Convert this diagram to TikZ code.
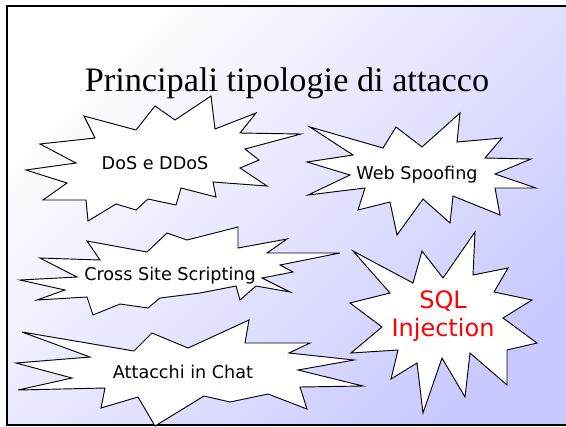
\documentclass[tikz,border=0pt]{standalone}
\usepackage{fontspec}
\setmainfont{Liberation Serif}
\newfontfamily\burstfont{DejaVu Sans}
\tikzstyle{burst}=[draw=black, fill=white, line width=0.7pt, line join=miter]
\tikzstyle{bursttext}=[font=\burstfont\fontsize{13.2}{15}\selectfont, inner sep=0pt]

\begin{document}
\begin{tikzpicture}[x=0.75pt, y=-0.75pt]
% Slide
    \useasboundingbox (0,0) rectangle (566,426);
    \fill[white] (-6,-6) rectangle (572,432);
    \shade[top color=white, bottom color=blue!21, shading angle=45] (7,6) rectangle (572,425);
    \draw[line width=1.5pt] (572,6) -- (7,6) -- (7,425) -- (572,425);
    \node[font=\fontsize{25.7}{30}\selectfont, anchor=base] (title) at (287,91) {Principali tipologie di attacco};
% Bursts
    \draw[burst] (84,116) -- (95,138) -- (40,144) -- (76,163) -- (26,170) -- (67,183) -- (43,200) -- (86,200) -- (88,221) -- (116,204) -- (136,210) -- (148,199) -- (176,205) -- (181,188) -- (216,197) -- (213,182) -- (267,186) -- (240,168) -- (259,160) -- (245,149) -- (301,134) -- (240,133) -- (256,113) -- (215,129) -- (211,96) -- (175,120) -- (155,106) -- (136,130) -- cycle;
    \draw[burst] (310,127) -- (383,148) -- (396,127) -- (422,147) -- (460,113) -- (457,142) -- (502,138) -- (485,158) -- (531,159) -- (495,174) -- (536,188) -- (495,188) -- (500,215) -- (453,196) -- (450,223) -- (423,199) -- (397,235) -- (390,202) -- (358,210) -- (365,188) -- (308,195) -- (350,175) -- (307,162) -- (353,155) -- cycle;
    \draw[burst] (87,241) -- (147,252) -- (167,233) -- (187,240) -- (238,227) -- (238,248) -- (287,239) -- (267,253) -- (340,253) -- (280,265) -- (293,272) -- (262,278) -- (290,292) -- (256,286) -- (240,300) -- (236,286) -- (200,293) -- (160,298) -- (148,308) -- (120,304) -- (93,315) -- (87,297) -- (37,300) -- (65,290) -- (20,280) -- (77,277) -- (40,258) -- (100,260) -- cycle;
    \draw[burst] (22,332) -- (134,351) -- (152,333) -- (188,348) -- (249,320) -- (245,343) -- (310,343) -- (289,353) -- (354,360) -- (298,370) -- (363,386) -- (300,387) -- (307,409) -- (268,394) -- (230,402) -- (204,396) -- (155,426) -- (138,397) -- (101,408) -- (105,388) -- (18,390) -- (72,378) -- (16,363) -- (90,357) -- cycle;
    \draw[burst] (475,232) -- (473,275) -- (508,268) -- (494,292) -- (532,300) -- (503,318) -- (537,343) -- (507,350) -- (507,385) -- (470,353) -- (465,397) -- (442,358) -- (423,413) -- (417,363) -- (391,379) -- (398,350) -- (351,353) -- (382,327) -- (350,303) -- (390,293) -- (353,251) -- (413,283) -- (422,251) -- (443,278) -- cycle;
% Labels
    \node[bursttext] (dos) at (155,163) {DoS e DDoS};
    \node[bursttext] (spoofing) at (417,175) {Web Spoofing};
    \node[bursttext] (xss) at (170,276) {Cross Site Scripting};
    \node[bursttext] (chat) at (183,372) {Attacchi in Chat};
    \node[bursttext, red, font=\burstfont\fontsize{18}{21}\selectfont, align=center] (sql) at (443,316) {SQL\\Injection};
\end{tikzpicture}
\end{document}
